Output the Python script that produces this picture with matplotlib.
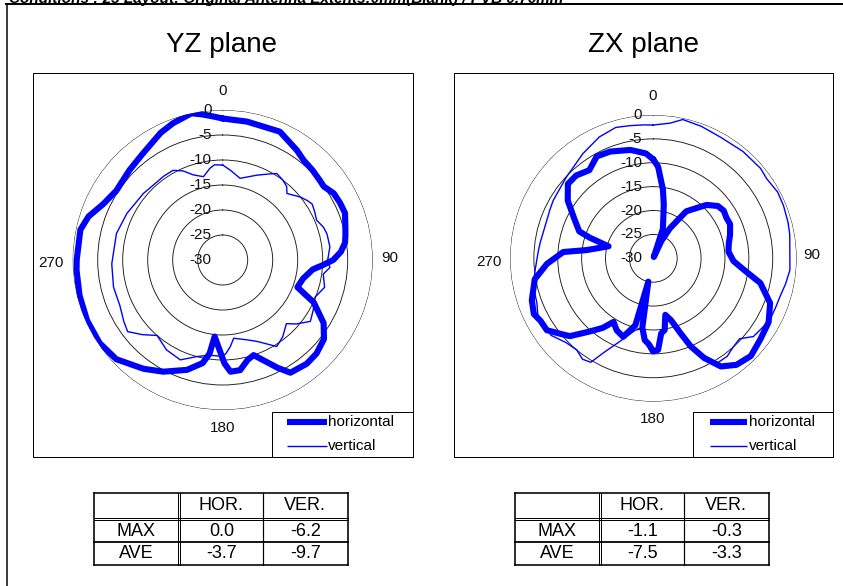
import numpy as np
import matplotlib
matplotlib.use('Agg')
import matplotlib.pyplot as plt
from matplotlib.patches import Rectangle

plt.rcParams['font.family'] = ['Liberation Sans', 'DejaVu Sans']

# ---------------- data ----------------
yz_ang_h = [0, 10, 24, 34, 39, 45, 51, 54, 59, 64, 69, 75, 79, 82, 86, 90, 93, 96, 103, 110,
            115, 122, 128, 135, 141, 149, 153, 158, 162, 166, 171, 176, 179, 182, 186, 188,
            191, 198, 208, 216, 227, 236, 246, 256, 266, 270, 282, 288, 295, 303, 314, 323,
            334, 340, 348, 352, 356]
yz_h = [-1.7, -1.9, -1.9, -3.5, -4.3, -4.6, -4.9, -5.0, -4.1, -3.9, -3.8, -4.6, -5.0, -5.3, -6.3,
        -7.9, -10.0, -11.9, -13.5, -14.1, -9.9, -6.2, -4.3, -3.5, -3.3, -3.7, -5.8, -8.4, -10.0,
        -9.4, -7.7, -7.6, -9.3, -12.0, -14.6, -11.1, -9.0, -6.9, -4.7, -3.1, -0.9, -0.3, -0.3,
        -0.5, -0.7, -0.8, -0.9, -1.8, -3.6, -4.6, -4.1, -3.4, -1.7, -0.9, 0.0, -0.6, -1.2]

yz_ang_v = [0, 5, 12, 22, 29, 32, 37, 41, 44, 51, 55, 58, 62, 67, 72, 76, 83, 90, 94, 98, 105,
            112, 119, 125, 131, 135, 142, 148, 157, 163, 172, 175, 178, 180, 186, 191, 195, 203,
            212, 221, 227, 233, 238, 246, 256, 268, 284, 296, 310, 325, 331, 336, 341, 347, 352,
            355]
yz_v = [-11.0, -12.0, -13.3, -11.7, -10.3, -9.6, -10.0, -10.5, -11.5, -10.0, -9.3, -8.9, -9.2,
        -9.6, -8.8, -8.5, -8.4, -9.0, -8.5, -9.7, -8.9, -10.1, -9.3, -8.6, -10.5, -12.0, -10.5,
        -9.6, -12.3, -13.3, -14.2, -12.6, -11.3, -10.7, -10.8, -10.5, -10.0, -8.3, -8.8, -10.0,
        -8.1, -6.2, -6.7, -7.5, -7.5, -7.8, -8.1, -8.7, -9.3, -9.5, -9.5, -10.5, -12.0, -12.9,
        -11.5, -10.9]

zx_ang_h = [0, 3, 8, 11, 15, 18, 21, 25, 29, 35, 41, 45, 51, 56, 61, 66, 73, 79, 85, 92, 97,
            103, 111, 119, 127, 135, 142, 148, 153, 157, 160, 164, 168, 171, 174, 177, 180, 183,
            186, 189, 192, 195, 197, 201, 207, 212, 216, 221, 227, 231, 236, 241, 245, 251, 260,
            267, 274, 277, 285, 288, 290, 296, 304, 311, 317, 324, 331, 338, 348, 356]
zx_h = [-9.3, -10.8, -15.5, -18.5, -22.0, -23.5, -29.7, -26.0, -22.8, -18.0, -16.0, -14.2,
        -12.6, -12.2, -12.5, -12.4, -13.2, -13.9, -14.2, -13.2, -11.0, -7.0, -3.8, -2.4, -1.9,
        -1.1, -1.7, -3.3, -6.6, -10.0, -13.3, -16.5, -17.9, -14.8, -14.2, -10.8, -10.5, -12.0,
        -12.8, -15.3, -25.0, -15.5, -14.6, -12.4, -13.1, -14.3, -12.0, -9.7, -6.1, -4.9, -3.1,
        -3.0, -2.4, -3.1, -4.8, -7.7, -11.1, -15.9, -20.3, -16.0, -13.5, -11.7, -8.4, -6.3,
        -6.3, -7.2, -5.6, -5.9, -6.8, -8.0]

zx_ang_v = [0, 7, 12, 20, 29, 40, 50, 55, 62, 68, 75, 80, 91, 95, 101, 107, 112, 118, 123, 128,
            133, 138, 143, 149, 153, 157, 160, 164, 168, 171, 174, 177, 181, 185, 189, 194, 202,
            208, 211, 215, 220, 226, 233, 243, 249, 257, 264, 274, 278, 295, 300, 313, 326, 336,
            344, 350, 356]
zx_v = [-2.1, -1.5, -0.3, -0.6, -1.0, -0.8, -0.7, -1.0, -0.5, -0.6, -0.8, -1.0, -1.4, -1.3, -1.8,
        -2.3, -2.4, -2.4, -3.0, -3.4, -5.3, -5.0, -4.3, -4.3, -6.6, -10.0, -13.3, -16.5, -17.9,
        -14.8, -14.2, -10.8, -10.1, -12.1, -15.1, -14.5, -11.2, -7.5, -4.6, -4.2, -5.0, -4.6,
        -3.2, -2.9, -3.9, -4.2, -5.1, -5.9, -6.1, -6.1, -5.8, -5.1, -3.6, -2.2, -1.5, -1.8, -2.0]

ring_values = [-30, -25, -20, -15, -10, -5, 0]
angle_labels = ['0', '90', '180', '270']
series_names = ['horizontal', 'vertical']
titles = ['YZ plane', 'ZX plane']

table_cols = ['HOR.', 'VER.']
table_rows = ['MAX', 'AVE']
yz_table = [[0.0, -6.2], [-3.7, -9.7]]
zx_table = [[-1.1, -0.3], [-7.5, -3.3]]

header_text = 'Conditions : 23 Layout: Original Antenna Extents:0mm(Blank) / PVB 0.76mm'

# ---------------- figure ----------------
W, H = 843, 586
PT = 0.72
BLUE = '#0000ff'
fig = plt.figure(figsize=(W / 100, H / 100), dpi=100)
fig.patch.set_facecolor('white')

ov = fig.add_axes([0, 0, 1, 1])
ov.set_xlim(0, W)
ov.set_ylim(H, 0)
ov.axis('off')


def hl(x0, x1, y, lw=1.0):
    ov.plot([x0, x1], [y, y], color='black', lw=lw * PT, solid_capstyle='projecting')


def vl(x, y0, y1, lw=1.0):
    ov.plot([x, x], [y0, y1], color='black', lw=lw * PT, solid_capstyle='projecting')


# outer frame and header
hl(6, W + 5, 4, 2.0)
vl(6.5, 4, H + 5, 1.5)
ov.text(9, 3, header_text, ha='left', va='baseline', fontsize=11,
        fontweight='bold', fontstyle='italic')


def panel(bx0, by0, bx1, by1, title, tx, cx, cy, R, ang_h, val_h, ang_v, val_v,
          lab_off, lgx0, lg_line, lg_text_x):
    ov.add_patch(Rectangle((bx0, by0), bx1 - bx0, by1 - by0, fill=False,
                           edgecolor='black', lw=1.0 * PT))
    ov.text(tx, 51.7, title, ha='center', va='baseline', fontsize=20)

    ax = fig.add_axes([(cx - R) / W, 1 - (cy + R) / H, 2 * R / W, 2 * R / H],
                      projection='polar')
    ax.set_theta_zero_location('N')
    ax.set_theta_direction(-1)
    ax.set_ylim(-30, 0)
    ax.set_yticks(ring_values)
    ax.set_yticklabels([])
    ax.set_xticks([])
    ax.tick_params(axis='y', length=0)
    ax.yaxis.grid(True, color='#1a1a1a', lw=0.65)
    ax.spines['polar'].set_visible(False)

    th = np.deg2rad(list(ang_h) + [ang_h[0] + 360])
    ax.plot(th, list(val_h) + [val_h[0]], color=BLUE, lw=4.4,
            solid_joinstyle='round', solid_capstyle='round', zorder=3)
    tv = np.deg2rad(list(ang_v) + [ang_v[0] + 360])
    ax.plot(tv, list(val_v) + [val_v[0]], color=BLUE, lw=1.0, zorder=4)

    for v in ring_values:
        ax.annotate(str(v), xy=(0, v), xytext=(-11 * PT, 0), textcoords='offset points',
                    ha='right', va='center', fontsize=11, color='#111111',
                    annotation_clip=False, zorder=5)
    for lbl, (dx, dy) in zip(angle_labels, lab_off):
        ax.annotate(lbl, xy=(0, -30), xytext=(dx * PT, dy * PT), textcoords='offset points',
                    ha='center', va='center', fontsize=11, color='#111111',
                    annotation_clip=False)

    # legend
    ov.add_patch(Rectangle((lgx0, 412.3), bx1 - lgx0, by1 - 412.3, fill=False,
                           edgecolor='black', lw=1.0 * PT))
    ov.plot(lg_line, [421.7, 421.7], color=BLUE, lw=4.4, solid_capstyle='butt')
    ov.plot(lg_line, [445.5, 445.5], color=BLUE, lw=1.0, solid_capstyle='butt')
    ov.text(lg_text_x, 421.7, series_names[0], ha='left', va='center', fontsize=11)
    ov.text(lg_text_x, 445.5, series_names[1], ha='left', va='center', fontsize=11)


panel(32.7, 73.3, 412.7, 456.7, titles[0], 221.7, 222.7, 260.0, 150.0,
      yz_ang_h, yz_h, yz_ang_v, yz_v,
      [(0, 169.3), (167.3, 2), (0, -168), (-172, -3)],
      272.3, [286.7, 326.7], 328.0)
panel(454.0, 73.3, 832.7, 456.7, titles[1], 643.0, 653.3, 258.3, 143.3,
      zx_ang_h, zx_h, zx_ang_v, zx_v,
      [(-0.6, 162.3), (158.4, 3.3), (-0.6, -160.7), (-164.3, -3.4)],
      693.3, [710.0, 746.7], 749.0)


def table(x0, values):
    xs = [x0, x0 + 83.7, x0 + 86.0, x0 + 168.7, x0 + 253.7]
    y0, yd1, yd2, y2, y3 = 492.7, 517.7, 520.0, 541.7, 565.0
    hl(xs[0], xs[4], y0, 1.6)
    hl(xs[0], xs[4], yd1, 1.0)
    hl(xs[0], xs[4], yd2, 1.0)
    hl(xs[0], xs[4], y2, 1.8)
    hl(xs[0], xs[4], y3, 1.6)
    vl(xs[0], y0, y3, 1.6)
    vl(xs[1], y0, y3, 1.0)
    vl(xs[2], y0, y3, 1.0)
    vl(xs[3], y0, y3, 1.2)
    vl(xs[4], y0, y3, 1.6)
    cx = [(xs[0] + xs[1]) / 2, (xs[2] + xs[3]) / 2, (xs[3] + xs[4]) / 2]
    cy = [506.0, 531.0, 553.8]
    for j, c in enumerate(table_cols):
        ov.text(cx[j + 1], cy[0], c, ha='center', va='center', fontsize=13)
    for i, r in enumerate(table_rows):
        ov.text(cx[0], cy[i + 1], r, ha='center', va='center', fontsize=13)
        for j in range(2):
            ov.text(cx[j + 1], cy[i + 1], f'{values[i][j]:.1f}', ha='center',
                    va='center', fontsize=13)


table(94.0, yz_table)
table(515.0, zx_table)

fig.savefig('out.png', dpi=100)
